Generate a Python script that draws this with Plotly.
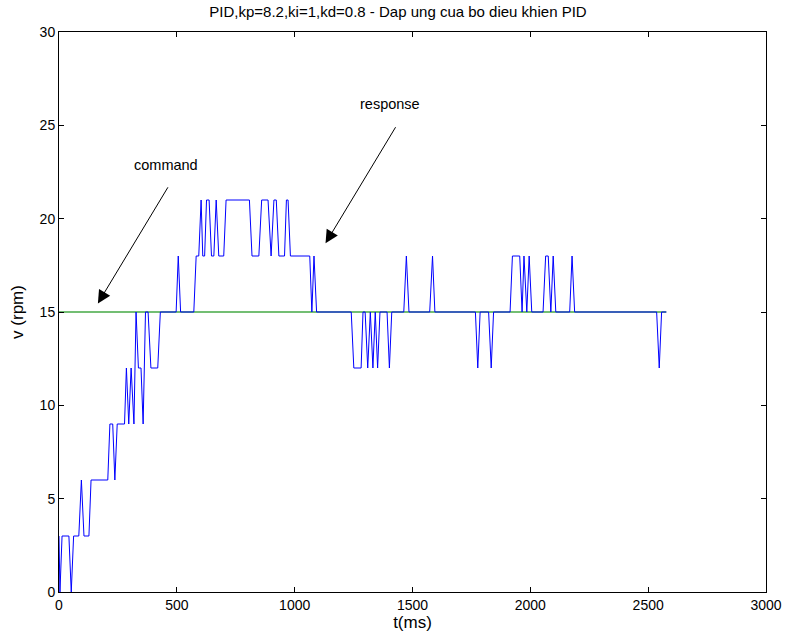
import plotly.graph_objects as go

# Response (blue) breakpoints: time (ms) and speed (rpm)
resp_t = [0, 4, 13, 42, 52, 62, 84, 95, 106, 127, 136, 207, 216, 228, 237, 247, 278, 286, 296, 306,
          318, 327, 337, 348, 357, 367, 378, 390, 419, 430, 497, 506, 516, 572, 582, 593, 603, 610, 618, 626,
          637, 647, 657, 667, 678, 699, 709, 808, 819, 848, 860, 887, 900, 912, 922, 933, 957, 965, 972, 982,
          1064, 1073, 1082, 1093, 1240, 1251, 1282, 1290, 1299, 1310, 1321, 1332, 1342, 1352, 1362, 1392, 1402, 1412,
          1463, 1474, 1485, 1573, 1585, 1595, 1767, 1777, 1787, 1823, 1834, 1844, 1914, 1924, 1955, 1965, 1973, 1985,
          1995, 2006, 2054, 2065, 2076, 2087, 2097, 2108, 2167, 2177, 2188, 2536, 2547, 2557, 2577]
resp_v = [3, 0, 3, 3, 0, 3, 3, 6, 3, 3, 6, 6, 9, 9, 6, 9, 9, 12, 9, 12,
          9, 15, 12, 12, 9, 15, 15, 12, 12, 15, 15, 18, 15, 15, 18, 18, 21, 18, 18, 21,
          21, 18, 18, 21, 18, 18, 21, 21, 18, 18, 21, 21, 18, 21, 21, 18, 18, 21, 21, 18,
          18, 15, 18, 15, 15, 12, 12, 15, 15, 12, 15, 12, 15, 12, 15, 15, 12, 15,
          15, 18, 15, 15, 18, 15, 15, 12, 15, 15, 12, 15, 15, 18, 18, 15, 18, 15,
          18, 15, 15, 18, 18, 15, 18, 15, 15, 18, 15, 15, 12, 15, 15]

# Command (green) setpoint
cmd_t = [0, 2577]
cmd_v = [15, 15]

title = "PID,kp=8.2,ki=1,kd=0.8 - Dap ung cua bo dieu khien PID"
x_ticks = [0, 500, 1000, 1500, 2000, 2500, 3000]
y_ticks = [0, 5, 10, 15, 20, 25, 30]

font = "Liberation Sans, Arial, sans-serif"

fig = go.Figure()
fig.add_trace(go.Scatter(x=cmd_t, y=cmd_v, mode="lines",
                         line=dict(color="rgb(115,190,115)", width=2), showlegend=False))
fig.add_trace(go.Scatter(x=resp_t, y=resp_v, mode="lines",
                         line=dict(color="rgb(0,0,255)", width=1), showlegend=False))

fig.add_annotation(x=165, y=15.46, ax=466, ay=21.76, xref="x", yref="y", axref="x", ayref="y",
                   showarrow=True, arrowhead=2, arrowsize=2.6, arrowwidth=1, arrowcolor="black", text="")
fig.add_annotation(x=452, y=22.9, xref="x", yref="y", text="command", showarrow=False,
                   font=dict(size=14.5, color="black", family=font))
fig.add_annotation(x=1131, y=18.68, ax=1432, ay=24.98, xref="x", yref="y", axref="x", ayref="y",
                   showarrow=True, arrowhead=2, arrowsize=2.6, arrowwidth=1, arrowcolor="black", text="")
fig.add_annotation(x=1406, y=26.14, xref="x", yref="y", text="response", showarrow=False,
                   font=dict(size=14.5, color="black", family=font))

axis_common = dict(showgrid=False, zeroline=False, showline=True, linecolor="black", linewidth=1,
                   mirror="ticks", ticks="inside", ticklen=5, tickcolor="black", automargin=False,
                   tickfont=dict(size=14, color="black", family=font))

fig.update_layout(
    width=787, height=636,
    margin=dict(l=59, r=21, t=32, b=44),
    paper_bgcolor="white", plot_bgcolor="white",
    font=dict(family=font, size=14, color="black"),
    title=dict(text=title, x=398 / 787, xanchor="center",
               y=1 - 12 / 636, yanchor="middle",
               font=dict(size=15, family=font, color="black")),
    xaxis=dict(range=[0, 3000], tickvals=x_ticks, title=dict(text="t(ms)", standoff=2), **axis_common),
    yaxis=dict(range=[0, 30], tickvals=y_ticks, title=dict(text="v (rpm)", standoff=11), **axis_common),
)

fig.write_html("out.html", config={"displayModeBar": False},
               post_script="document.body.style.margin='0';")
